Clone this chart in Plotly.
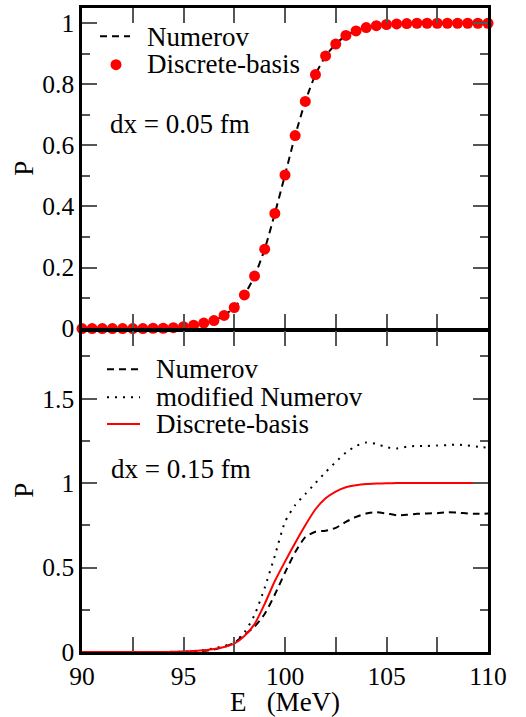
import plotly.graph_objects as go

# ---------------- data ----------------
energy = [90.0, 90.5, 91.0, 91.5, 92.0, 92.5, 93.0, 93.5, 94.0, 94.5,
          95.0, 95.5, 96.0, 96.5, 97.0, 97.5, 98.0, 98.5, 99.0, 99.5,
          100.0, 100.5, 101.0, 101.5, 102.0, 102.5, 103.0, 103.5, 104.0, 104.5,
          105.0, 105.5, 106.0, 106.5, 107.0, 107.5, 108.0, 108.5, 109.0, 109.5, 110.0]

# top panel (dx = 0.05 fm)
numerov_005 = [0.0, 0.0, 0.0, 0.0, 0.0, 0.0, 0.0, 0.001, 0.001, 0.003,
               0.006, 0.011, 0.018, 0.026, 0.043, 0.069, 0.110, 0.172, 0.260, 0.377,
               0.503, 0.632, 0.744, 0.832, 0.893, 0.932, 0.960, 0.975, 0.986, 0.992,
               0.996, 0.998, 0.999, 1.0, 1.0, 1.0, 1.0, 1.0, 1.0, 1.0, 1.0]
discrete_005 = [0.0, 0.0, 0.0, 0.0, 0.0, 0.0, 0.0, 0.001, 0.001, 0.003,
                0.006, 0.011, 0.018, 0.026, 0.043, 0.069, 0.110, 0.172, 0.260, 0.377,
                0.503, 0.632, 0.744, 0.832, 0.893, 0.932, 0.960, 0.975, 0.986, 0.992,
                0.996, 0.998, 0.999, 1.0, 1.0, 1.0, 1.0, 1.0, 1.0, 1.0, 1.0]

# bottom panel (dx = 0.15 fm)
numerov_015 = [0.0, 0.0, 0.0, 0.0, 0.0, 0.0, 0.0, 0.0, 0.0, 0.0,
               0.001, 0.003, 0.007, 0.015, 0.030, 0.055, 0.100, 0.150, 0.225, 0.340,
               0.470, 0.590, 0.680, 0.712, 0.718, 0.735, 0.770, 0.800, 0.820, 0.827,
               0.820, 0.810, 0.812, 0.818, 0.820, 0.822, 0.827, 0.825, 0.820, 0.818, 0.820]
modnumerov_015 = [0.0, 0.0, 0.0, 0.0, 0.0, 0.0, 0.0, 0.0, 0.0, 0.001,
                  0.002, 0.006, 0.012, 0.022, 0.035, 0.060, 0.115, 0.220, 0.380, 0.570,
                  0.770, 0.870, 0.935, 1.000, 1.065, 1.125, 1.180, 1.220, 1.240, 1.232,
                  1.212, 1.205, 1.215, 1.220, 1.220, 1.222, 1.225, 1.228, 1.222, 1.215, 1.210]
discrete_015 = [0.0, 0.0, 0.0, 0.0, 0.0, 0.0, 0.0, 0.0, 0.0, 0.001,
                0.003, 0.006, 0.010, 0.018, 0.030, 0.050, 0.095, 0.165, 0.285, 0.420,
                0.535, 0.645, 0.750, 0.845, 0.910, 0.950, 0.975, 0.987, 0.994, 0.997,
                0.999, 1.0, 1.0, 1.0, 1.0, 1.0, 1.0, 1.0, 1.0, 1.0, 1.0]

x_tickvals = [90, 95, 100, 105, 110]
x_ticktext = ["90", "95", "100", "105", "110"]
y_top_tickvals = [0, 0.2, 0.4, 0.6, 0.8, 1.0]
y_top_ticktext = ["0", "0.2", "0.4", "0.6", "0.8", "1"]
y_bot_tickvals = [0, 0.5, 1.0, 1.5]
y_bot_ticktext = ["0", "0.5", "1", "1.5"]

top_legend_labels = ["Numerov", "Discrete-basis"]
bot_legend_labels = ["Numerov", "modified Numerov", "Discrete-basis"]
top_note = "dx = 0.05 fm"
bot_note = "dx = 0.15 fm"
y_title = "P"
x_title = "E\u00a0\u00a0\u00a0(MeV)"

# ---------------- style ----------------
FONT = "Liberation Serif, Times New Roman, serif"
RED = "#ff0000"
DASH = "7px,5px"
DOT = "2px,6px"
W, H = 526, 717
ML, MR, MT, MB = 82, 38, 5, 65
PW, PH = W - ML - MR, H - MT - MB
LW = 2.5


def px(xp):
    return (xp - ML) / PW


def py(yp):
    return (H - MB - yp) / PH


fig = go.Figure()

fig.add_trace(go.Scatter(x=energy, y=numerov_005, mode="lines", name=top_legend_labels[0],
                         line=dict(color="black", width=2, dash=DASH, shape="spline", smoothing=0.6),
                         xaxis="x", yaxis="y", showlegend=False))
fig.add_trace(go.Scatter(x=energy, y=discrete_005, mode="markers", name=top_legend_labels[1],
                         marker=dict(color=RED, size=11, line=dict(width=0)),
                         cliponaxis=False, xaxis="x", yaxis="y", showlegend=False))

fig.add_trace(go.Scatter(x=energy, y=numerov_015, mode="lines", name=bot_legend_labels[0],
                         line=dict(color="black", width=2, dash=DASH, shape="spline", smoothing=0.6),
                         xaxis="x2", yaxis="y2", showlegend=False))
fig.add_trace(go.Scatter(x=energy, y=modnumerov_015, mode="lines", name=bot_legend_labels[1],
                         line=dict(color="black", width=2, dash=DOT, shape="spline", smoothing=0.6),
                         xaxis="x2", yaxis="y2", showlegend=False))
fig.add_trace(go.Scatter(x=energy, y=discrete_015, mode="lines", name=bot_legend_labels[2],
                         line=dict(color=RED, width=2, shape="spline", smoothing=0.6),
                         xaxis="x2", yaxis="y2", showlegend=False))

tickfont = dict(family=FONT, size=25.5, color="black")
TICKC = "#555555"
common_x = dict(range=[90, 110], showline=True, linecolor="black", linewidth=LW, mirror="ticks",
                ticks="inside", ticklen=15, tickwidth=2, tickcolor=TICKC,
                tickvals=x_tickvals, ticktext=x_ticktext,
                minor=dict(dtick=2.5, ticks="inside", ticklen=15, tickwidth=2, tickcolor=TICKC),
                showgrid=False, zeroline=False, tickfont=tickfont)
common_y = dict(showline=True, linecolor="black", linewidth=LW, mirror="ticks",
                ticks="inside", ticklen=15, tickwidth=2, tickcolor=TICKC,
                showgrid=False, zeroline=False, tickfont=tickfont)

# legend samples (drawn as shapes) and texts (annotations)
shapes = [
    dict(type="line", xref="paper", yref="paper", x0=px(100), x1=px(130), y0=py(33.5), y1=py(33.5),
         line=dict(color="black", width=2, dash=DASH)),
    dict(type="circle", xref="paper", yref="paper", xsizemode="pixel", ysizemode="pixel",
         xanchor=px(116), yanchor=py(62), x0=-5.5, x1=5.5, y0=-5.5, y1=5.5,
         fillcolor=RED, line=dict(width=0)),
    dict(type="line", xref="paper", yref="paper", x0=px(107), x1=px(140), y0=py(368), y1=py(368),
         line=dict(color="black", width=2, dash=DASH)),
    dict(type="line", xref="paper", yref="paper", x0=px(107), x1=px(140), y0=py(396), y1=py(396),
         line=dict(color="black", width=2, dash=DOT)),
    dict(type="line", xref="paper", yref="paper", x0=px(107), x1=px(140), y0=py(423), y1=py(423),
         line=dict(color=RED, width=2)),
]


def note(text, xl, yc, angle=0, xanchor="left"):
    return dict(text=text, xref="paper", yref="paper", x=px(xl), y=py(yc), xanchor=xanchor,
                yanchor="middle", showarrow=False, font=dict(family=FONT, size=27, color="black"),
                borderpad=0, textangle=angle)


annotations = [
    note(top_legend_labels[0], 146, 34),
    note(top_legend_labels[1], 146, 61.5),
    note(top_note, 109, 122),
    note(bot_legend_labels[0], 155, 368),
    note(bot_legend_labels[1], 155, 396),
    note(bot_legend_labels[2], 155, 423),
    note(bot_note, 110, 468),
    note(y_title, 24, 166.5, angle=-90, xanchor="center"),
    note(y_title, 24, 490, angle=-90, xanchor="center"),
]

# panel split: axis lines are drawn outside the plot area, so the two panels are
# separated by one line width to let the shared border lines coincide
SPLIT = 328.3
top_dom = [py(SPLIT - LW / 2), 1]
bot_dom = [0, py(SPLIT + LW / 2)]

fig.update_layout(
    width=W, height=H,
    margin=dict(l=ML, r=MR, t=MT, b=MB),
    paper_bgcolor="white", plot_bgcolor="white",
    font=dict(family=FONT, size=27, color="black"),
    showlegend=False,
    xaxis=dict(**common_x, domain=[0, 1], anchor="y", showticklabels=False),
    yaxis=dict(**common_y, domain=top_dom, anchor="x", range=[0, 1.05],
               tickvals=y_top_tickvals, ticktext=y_top_ticktext,
               minor=dict(dtick=0.1, ticks="inside", ticklen=8, tickwidth=2, tickcolor=TICKC)),
    xaxis2=dict(**common_x, domain=[0, 1], anchor="y2",
                title=dict(text=x_title, font=dict(family=FONT, size=27), standoff=2)),
    yaxis2=dict(**common_y, domain=bot_dom, anchor="x2", range=[0, 1.9],
                tickvals=y_bot_tickvals, ticktext=y_bot_ticktext,
                minor=dict(dtick=0.25, ticks="inside", ticklen=8, tickwidth=2, tickcolor=TICKC)),
    shapes=shapes,
    annotations=annotations,
)

fig.write_html("out.html", config={"displayModeBar": False},
               post_script="document.body.style.margin='0';document.body.style.overflow='hidden';")
